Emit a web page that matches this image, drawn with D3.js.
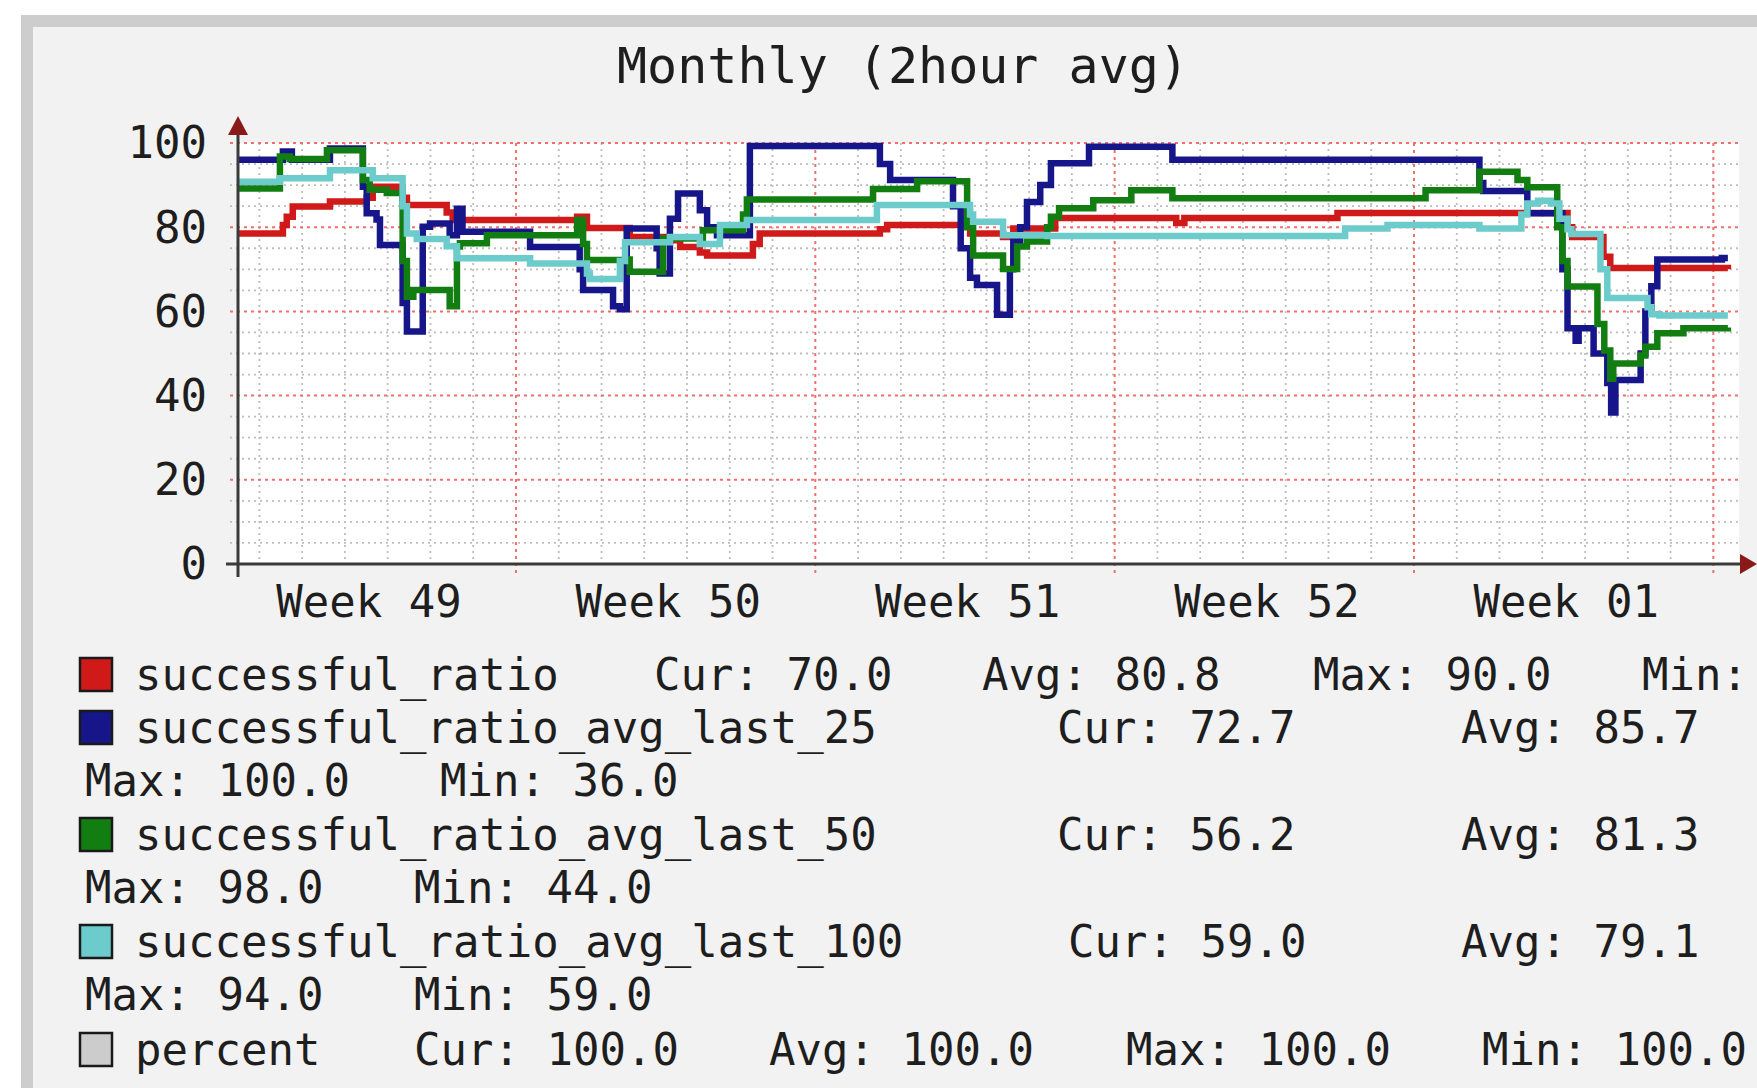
<!DOCTYPE html>
<html><head><meta charset="utf-8">
<script src="https://cdn.jsdelivr.net/npm/d3@7"></script>
<style>
html,body{margin:0;padding:0;background:#ffffff;}
svg{display:block;}
text{font-family:"DejaVu Sans Mono",monospace;fill:#1e1e1e;}
</style></head><body>
<svg id="chart" width="1757" height="1088"></svg>
<script>
// ---------- data ----------
const chartTitle = "Monthly (2hour avg)";
const yTicks = [0, 20, 40, 60, 80, 100];
const weekStarts = [0, 7, 14, 21, 28];           // days since Monday of week 49
const weekLabels = ["Week 49", "Week 50", "Week 51", "Week 52", "Week 01"];
const seriesNames = ["successful_ratio", "successful_ratio_avg_last_25",
  "successful_ratio_avg_last_50", "successful_ratio_avg_last_100", "percent"];
const seriesColors = ["#d01a1a", "#16168a", "#127e12", "#6ccccc", "#cccccc"];
const legendCur = ["70.0", "72.7", "56.2", "59.0", "100.0"];
const legendAvg = ["80.8", "85.7", "81.3", "79.1", "100.0"];
const legendMax = ["90.0", "100.0", "98.0", "94.0", "100.0"];
const legendMin = ["", "36.0", "44.0", "59.0", "100.0"];   // first value is cropped off in the source

// [day since week-49 start, value] ; stepped (2 hour averages)
const successfulRatio = [
 [0.49,78.5],[1.55,80.5],[1.64,82.5],[1.78,84.9],[2.65,86.1],[3.51,87.0],[3.65,89.6],[4.35,87.0],
 [4.45,85.3],[5.38,83.5],[5.52,81.7],[8.43,82.5],[8.66,79.8],[9.66,77.7],[10.53,76.9],[10.84,75.3],
 [11.30,74.0],[11.47,73.3],[12.54,76.0],[12.70,78.5],[15.51,79.5],[15.68,80.5],[17.62,78.5],[18.39,77.7],
 [18.63,79.7],[19.61,82.2],[22.44,81.0],[22.63,82.2],[26.21,83.4],[31.59,80.0],[31.70,77.7],[32.43,73.0],
 [32.59,70.3],[35.34,70.0]
];
const avgLast25 = [
 [0.49,96.0],[1.55,98.0],[1.76,96.0],[2.65,98.7],[3.42,89.6],[3.51,83.3],[3.74,81.8],[3.82,75.8],
 [4.35,62.0],[4.45,55.2],[4.82,80.1],[4.99,80.9],[5.45,78.1],[5.62,84.4],[5.75,78.9],[7.33,75.3],
 [8.49,70.0],[8.57,65.1],[9.27,61.2],[9.43,60.5],[9.59,79.7],[10.29,75.0],[10.36,69.0],[10.60,82.0],
 [10.79,88.0],[11.30,84.0],[11.47,80.0],[11.70,78.1],[12.47,99.3],[15.51,95.0],[15.75,91.2],[17.22,85.0],
 [17.40,75.0],[17.62,68.0],[17.78,66.3],[18.25,59.2],[18.55,70.0],[18.63,76.6],[18.79,80.0],[18.95,86.0],
 [19.26,90.0],[19.51,95.2],[20.40,99.1],[22.35,96.0],[29.53,90.5],[29.62,88.6],[30.65,83.3],[31.47,70.0],
 [31.59,56.0],[31.78,53.0],[31.85,56.0],[32.20,50.0],[32.52,43.0],[32.61,36.0],[32.71,43.7],[33.30,50.0],
 [33.41,60.0],[33.55,66.0],[33.69,72.3],[35.20,72.7],[35.34,72.7]
];
const avgLast50 = [
 [0.49,89.2],[1.48,96.8],[1.71,96.2],[2.58,98.3],[3.42,91.2],[3.58,88.9],[3.98,88.1],[4.35,72.0],
 [4.45,63.5],[4.60,65.1],[5.45,61.2],[5.62,75.4],[5.69,76.2],[6.32,78.1],[8.43,81.7],[8.57,76.0],
 [8.66,72.2],[9.59,72.3],[9.66,69.4],[10.44,77.3],[11.37,79.3],[12.31,83.0],[12.40,86.6],[15.35,89.1],
 [16.38,90.9],[17.55,80.0],[17.69,73.3],[18.39,70.1],[18.72,75.4],[18.95,76.6],[19.42,80.0],[19.51,82.5],
 [19.70,84.5],[20.50,86.4],[21.39,88.8],[22.35,86.9],[28.27,88.8],[29.53,93.2],[30.42,91.2],[30.65,89.5],
 [31.35,80.0],[31.47,72.0],[31.59,65.9],[32.29,57.0],[32.45,50.7],[32.59,44.0],[32.66,47.6],[33.30,49.5],
 [33.41,51.6],[33.69,54.8],[34.30,56.0],[35.34,56.2]
];
const avgLast100 = [
 [0.49,90.8],[1.48,91.6],[2.65,93.5],[3.65,91.6],[4.35,85.0],[4.45,78.5],[4.68,77.2],[5.38,75.5],
 [5.62,72.6],[7.33,71.4],[8.66,69.0],[8.73,67.7],[9.43,72.0],[9.55,76.4],[10.60,77.7],[11.30,76.0],
 [11.77,80.5],[12.40,81.7],[15.44,85.3],[17.62,83.0],[17.69,81.3],[18.39,78.1],[19.42,77.9],[26.39,79.7],
 [27.38,80.5],[29.53,79.7],[30.51,83.0],[30.65,85.6],[30.90,86.3],[31.20,85.6],[31.40,82.0],[31.59,79.5],
 [31.68,78.4],[32.36,70.0],[32.52,63.2],[33.46,61.0],[33.55,59.3],[33.74,59.0],[35.34,59.0]
];
const drawnSeries = [successfulRatio, avgLast25, avgLast50, avgLast100];

// ---------- layout ----------
const W = 1757, H = 1088;
const plot = {left: 238, right: 1739, top: 143, bottom: 564};
const svg = d3.select("#chart");

// frame + background
svg.append("rect").attr("x", 21).attr("y", 15).attr("width", W).attr("height", H).attr("fill", "#cdcdcd");
svg.append("rect").attr("x", 33).attr("y", 27).attr("width", W).attr("height", H).attr("fill", "#f2f2f2");
svg.append("rect").attr("x", plot.left).attr("y", plot.top)
  .attr("width", plot.right - plot.left).attr("height", plot.bottom - plot.top).attr("fill", "#ffffff");

const x = d3.scaleLinear().domain([0.5, 35.6]).range([plot.left, plot.right]);
const y = d3.scaleLinear().domain([0, 100]).range([plot.bottom, plot.top]);

// grid
const grid = svg.append("g");
const minorY = d3.range(5, 100, 5).filter(v => v % 20 !== 0);
grid.selectAll(".mh").data(minorY).join("line")
  .attr("x1", plot.left - 8).attr("x2", plot.right)
  .attr("y1", d => y(d)).attr("y2", d => y(d))
  .attr("stroke", "#bdbdbd").attr("stroke-width", 1.8).attr("stroke-dasharray", "2,4");
const minorX = d3.range(1, 36).filter(d => d % 7 !== 0);
grid.selectAll(".mv").data(minorX).join("line")
  .attr("x1", d => x(d)).attr("x2", d => x(d))
  .attr("y1", plot.top).attr("y2", plot.bottom + 4)
  .attr("stroke", "#bdbdbd").attr("stroke-width", 1.8).attr("stroke-dasharray", "2,4");
grid.selectAll(".MH").data(yTicks.filter(v => v > 0)).join("line")
  .attr("x1", plot.left - 8).attr("x2", plot.right)
  .attr("y1", d => y(d)).attr("y2", d => y(d))
  .attr("stroke", "#f07070").attr("stroke-width", 2).attr("stroke-dasharray", "3,4");
grid.selectAll(".MV").data([7, 14, 21, 28, 35]).join("line")
  .attr("x1", d => x(d)).attr("x2", d => x(d))
  .attr("y1", plot.top).attr("y2", plot.bottom + 12)
  .attr("stroke", "#f07070").attr("stroke-width", 2).attr("stroke-dasharray", "3,4");

// series lines
const line = d3.line().x(d => x(d[0])).y(d => y(d[1])).curve(d3.curveStepAfter);
svg.append("g").selectAll("path").data(drawnSeries).join("path")
  .attr("d", line).attr("fill", "none")
  .attr("stroke", (d, i) => seriesColors[i]).attr("stroke-width", 6.5)
  .attr("stroke-linejoin", "miter");

// axes lines + arrows
svg.append("line").attr("x1", 226).attr("x2", 1742).attr("y1", plot.bottom).attr("y2", plot.bottom)
  .attr("stroke", "#3a3a3a").attr("stroke-width", 3);
svg.append("line").attr("x1", plot.left).attr("x2", plot.left).attr("y1", 577).attr("y2", 133)
  .attr("stroke", "#3a3a3a").attr("stroke-width", 3);
svg.append("path").attr("d", `M1740,${plot.bottom - 10}L1757,${plot.bottom}L1740,${plot.bottom + 10}Z`)
  .attr("fill", "#8a1a1a");
svg.append("path").attr("d", `M${plot.left - 10},135L${plot.left},116L${plot.left + 10},135Z`)
  .attr("fill", "#8a1a1a");

// axis labels via d3 axes
const yAxis = d3.axisLeft(y).tickValues(yTicks).tickSize(0).tickPadding(31).tickFormat(d3.format("d"));
const gy = svg.append("g").attr("transform", `translate(${plot.left},0)`).call(yAxis);
gy.select(".domain").remove();
gy.selectAll("text").attr("font-family", "DejaVu Sans Mono").attr("font-size", 44)
  .attr("fill", "#1e1e1e").attr("dy", "0.34em");

const xAxis = d3.axisBottom(x).tickValues(weekStarts.map(d => d + 3.55))
  .tickFormat((d, i) => weekLabels[i]).tickSize(0).tickPadding(22);
const gx = svg.append("g").attr("transform", `translate(0,${plot.bottom})`).call(xAxis);
gx.select(".domain").remove();
gx.selectAll("text").attr("font-family", "DejaVu Sans Mono").attr("font-size", 44).attr("fill", "#1e1e1e");

// title
svg.append("text").attr("x", 903).attr("y", 83).attr("text-anchor", "middle")
  .attr("font-size", 50).text(chartTitle);

// legend
const stat = (label, v) => (label + " " + v).trim();
const legendRows = [
  {base: 690, sq: 0, items: [[135, () => seriesNames[0]], [654, () => stat("Cur:", legendCur[0])],
    [982, () => stat("Avg:", legendAvg[0])], [1313, () => stat("Max:", legendMax[0])], [1642, () => stat("Min:", legendMin[0])]]},
  {base: 743, sq: 1, items: [[135, () => seriesNames[1]], [1057, () => stat("Cur:", legendCur[1])],
    [1461, () => stat("Avg:", legendAvg[1])]]},
  {base: 796, sq: -1, items: [[85, () => stat("Max:", legendMax[1])], [440, () => stat("Min:", legendMin[1])]]},
  {base: 850, sq: 2, items: [[135, () => seriesNames[2]], [1057, () => stat("Cur:", legendCur[2])],
    [1461, () => stat("Avg:", legendAvg[2])]]},
  {base: 903, sq: -1, items: [[85, () => stat("Max:", legendMax[2])], [414, () => stat("Min:", legendMin[2])]]},
  {base: 957, sq: 3, items: [[135, () => seriesNames[3]], [1068, () => stat("Cur:", legendCur[3])],
    [1461, () => stat("Avg:", legendAvg[3])]]},
  {base: 1010, sq: -1, items: [[85, () => stat("Max:", legendMax[3])], [414, () => stat("Min:", legendMin[3])]]},
  {base: 1065, sq: 4, items: [[135, () => seriesNames[4]], [414, () => stat("Cur:", legendCur[4])],
    [769, () => stat("Avg:", legendAvg[4])], [1126, () => stat("Max:", legendMax[4])], [1482, () => stat("Min:", legendMin[4])]]}
];
const lg = svg.append("g");
legendRows.forEach(r => {
  if (r.sq >= 0) {
    lg.append("rect").attr("x", 80).attr("y", r.base - 32).attr("width", 32).attr("height", 33)
      .attr("fill", seriesColors[r.sq]).attr("stroke", "#1a1a1a").attr("stroke-width", 2.5);
  }
  r.items.forEach(it => {
    lg.append("text").attr("x", it[0]).attr("y", r.base).attr("font-size", 44).text(it[1]());
  });
});
</script>
</body></html>
